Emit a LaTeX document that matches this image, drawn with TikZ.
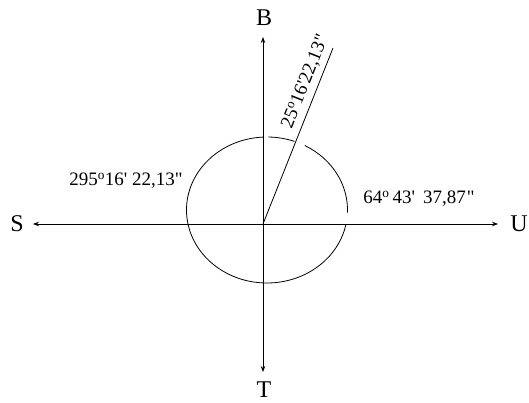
\documentclass[tikz,border=0pt]{standalone}
\usepackage{fontspec}
\newfontfamily\lblfont{Liberation Serif}
\usetikzlibrary{arrows.meta,positioning,calc}
\tikzset{
  axis/.style    = {-{Stealth[length=6pt,width=4.5pt]},line width=0.8pt},
  ray/.style     = {line width=0.8pt},
  arcline/.style = {line width=0.8pt},
  dirlbl/.style  = {font=\lblfont\fontsize{24}{24}\selectfont,inner sep=0pt},
  anglbl/.style  = {font=\lblfont\fontsize{19}{19}\selectfont,inner sep=1pt},
}
\newcommand{\dg}{\textsuperscript{o}}

\begin{document}
\begin{tikzpicture}[x=1pt,y=1pt]
  \useasboundingbox (0,0) rectangle (529,402);
  \coordinate (O) at (263,178);
  \coordinate (E) at (267,192);
  % arrow tips
  \coordinate (tipB) at (263,365);
  \coordinate (tipT) at (263,30);
  \coordinate (tipS) at (33,178);
  \coordinate (tipU) at (498,178);
  \coordinate (P) at (333,354);
  % direction letters
  \node[dirlbl] (B) at (264,384) {B};
  \node[dirlbl] (T) at (264,12) {T};
  \node[dirlbl] (S) at (17,178) {S};
  \node[dirlbl] (U) at (519,178) {U};
  % axes
  \draw[axis] (O) -- (tipB);
  \draw[axis] (O) -- (tipT);
  \draw[axis] (O) -- (tipS);
  \draw[axis] (O) -- (tipU);
  % ray and angle arcs
  \draw[ray] (O) -- (P)
    node[anglbl,pos=0.78,sloped,above=4pt] (a25) {25\dg16'22,13"};
  \draw[arcline] ([shift={(93:80.5 and 73)}]E)
    arc[start angle=93,end angle=348,x radius=80.5pt,y radius=73pt];
  \draw[arcline] ([shift={(89:80.5 and 73)}]E)
    arc[start angle=89,end angle=70,x radius=80.5pt,y radius=73pt];
  \draw[arcline] ([shift={(62:80.5 and 73)}]E)
    arc[start angle=62,end angle=-2,x radius=80.5pt,y radius=73pt];
  \node[anglbl] (a295) at (126,221) {295\dg16' 22,13"};
  \node[anglbl] (a64) at (419,203)
    {64\dg\hspace{3pt}43'\hspace{8pt}37,87\hspace{1pt}"};
\end{tikzpicture}
\end{document}
